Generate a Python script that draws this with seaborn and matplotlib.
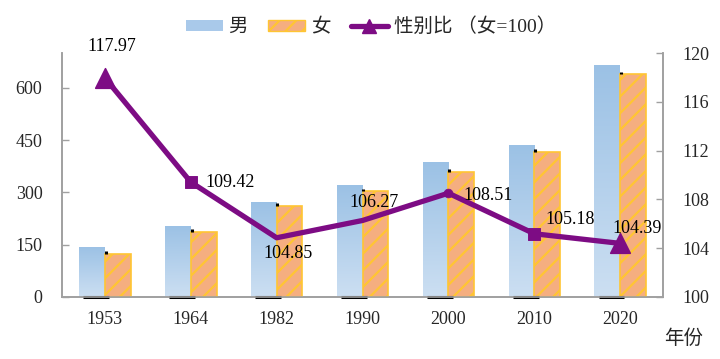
import numpy as np
import pandas as pd
import matplotlib
matplotlib.use("Agg")
import matplotlib.pyplot as plt
import seaborn as sns
from matplotlib.patches import Patch
from matplotlib.lines import Line2D
from matplotlib.colors import LinearSegmentedColormap

years = ["1953", "1964", "1982", "1990", "2000", "2010", "2020"]
male = [144, 204, 273, 322, 388, 437, 667]
female = [123, 186, 261, 303, 358, 417, 639]
ratio = [117.97, 109.42, 104.85, 106.27, 108.51, 105.18, 104.39]
ratio_markers = ["tri", "sq", "none", "none", "dot", "sq", "tri"]
label_offsets = [(7, 31), (39, 0), (11, -16), (12, 18), (40, -2), (36, 14), (17, 15)]

sns.set_theme(style="white")
plt.rcParams['font.family'] = ['Liberation Serif', 'Noto Sans CJK SC', 'DejaVu Sans']
plt.rcParams['hatch.linewidth'] = 1.6

fig = plt.figure(figsize=(7.2, 3.59), dpi=100)
ax = fig.add_axes([0.086, 0.173, 0.835, 0.679])

df = pd.DataFrame({
    "year": years * 2,
    "value": male + female,
    "sex": ["男"] * len(years) + ["女"] * len(years),
})
sns.barplot(data=df, x="year", y="value", hue="sex", order=years, hue_order=["男", "女"],
            width=0.6, gap=0, palette=["#A9C9EA", "#F5AE80"], ax=ax, legend=False,
            errorbar=None, saturation=1)

male_bars = ax.containers[0]
female_bars = ax.containers[1]
cmap = LinearSegmentedColormap.from_list("mb", ["#CCDFF2", "#9BC1E5"])
grad = np.linspace(0, 1, 256).reshape(-1, 1)
for p in male_bars:
    p.set_facecolor("none")
    p.set_edgecolor("none")
    x0, y0 = p.get_x(), p.get_y()
    w, h = p.get_width(), p.get_height()
    im = ax.imshow(grad, cmap=cmap, aspect="auto", origin="lower",
                   extent=[x0, x0 + w, y0, y0 + h], zorder=2)
    im.set_clip_path(p)
for p in female_bars:
    p.set_facecolor("#F5AE80")
    p.set_edgecolor("#FFC533")
    p.set_linewidth(1.2)
    p.set_hatch("//")
    p.set_zorder(3)

# small dark marks of the original rendering
for i, (m, f) in enumerate(zip(male, female)):
    ax.plot([i + 0.01, i + 0.01], [f, f + 8], color="black", lw=2.2, zorder=4, solid_capstyle="butt")
    ax.plot([i - 0.25, i + 0.05], [0, 0], color="black", lw=2.2, zorder=5,
            clip_on=False, solid_capstyle="butt")

ax.set_xlim(-0.5, len(years) - 0.5)
ax.set_ylim(0, 700)
ax.set_yticks([0, 150, 300, 450, 600])
ax.set_xticks(range(len(years)))
ax.set_xticklabels(years)
ax.set_xticks([i + 0.5 for i in range(len(years) - 1)], minor=True)
ax.tick_params(axis="x", which="major", length=0, pad=10, labelsize=13)
ax.tick_params(axis="x", which="minor", direction="in", length=5, color="#A0A0A0", width=1)
ax.tick_params(axis="y", direction="in", length=5, color="#A0A0A0", width=1, pad=14, labelsize=13)
ax.set_xlabel("")
ax.set_ylabel("")
for s in ["left", "bottom", "right"]:
    ax.spines[s].set_color("#A0A0A0")
    ax.spines[s].set_linewidth(1.2)
ax.spines["top"].set_visible(False)

ax2 = ax.twinx()
xs = list(range(len(years)))
sns.lineplot(x=xs, y=ratio, ax=ax2, color="#7D0C84", lw=3.8, zorder=6)
mk_df = pd.DataFrame({"x": xs, "y": ratio, "m": ratio_markers})
sizes = {"tri": 200, "sq": 70, "dot": 40}
markers = {"tri": "^", "sq": "s", "dot": "o"}
for k in ["tri", "sq", "dot"]:
    sub = mk_df[mk_df["m"] == k]
    sns.scatterplot(data=sub, x="x", y="y", ax=ax2, marker=markers[k], s=sizes[k],
                    color="#7D0C84", edgecolor="#7D0C84", zorder=7, legend=False)
for x, y, off in zip(xs, ratio, label_offsets):
    ax2.annotate(f"{y:.2f}", (x, y), xytext=off, textcoords="offset pixels",
                 ha="center", va="center", fontsize=13, color="black",
                 family="Liberation Serif", zorder=8)
ax2.set_ylim(100, 120)
ax2.set_yticks([100, 104, 108, 112, 116, 120])
ax2.tick_params(axis="y", direction="in", length=5, color="#A0A0A0", width=1, pad=14, labelsize=13)
ax2.set_xlim(-0.5, len(years) - 0.5)
ax2.set_xlabel("")
ax2.set_ylabel("")
for s in ["left", "bottom", "right"]:
    ax2.spines[s].set_color("#A0A0A0")
    ax2.spines[s].set_linewidth(1.2)
ax2.spines["top"].set_visible(False)
ax2.grid(False)
ax.grid(False)

legfont = ['Liberation Serif', 'Noto Sans CJK SC', 'DejaVu Sans']
handles = [
    Patch(facecolor="#A9C9EA", edgecolor="none"),
    Patch(facecolor="#F5AE80", edgecolor="#FFC533", hatch="//"),
    Line2D([0], [0], color="#7D0C84", lw=3.8, marker="^", markersize=10),
]
fig.legend(handles, ["男", "女", "性别比 （女=100）"], loc="center", bbox_to_anchor=(0.515, 0.925),
           ncol=3, frameon=False, prop={"family": legfont, "size": 14},
           handlelength=1.9, handleheight=0.5, columnspacing=1.05, handletextpad=0.3)

fig.text(0.95, 0.058, "年份", ha="center", va="center",
         family=['Noto Sans CJK SC', 'DejaVu Sans'], fontsize=14, fontweight="medium")

fig.savefig("out.png", dpi=100)
